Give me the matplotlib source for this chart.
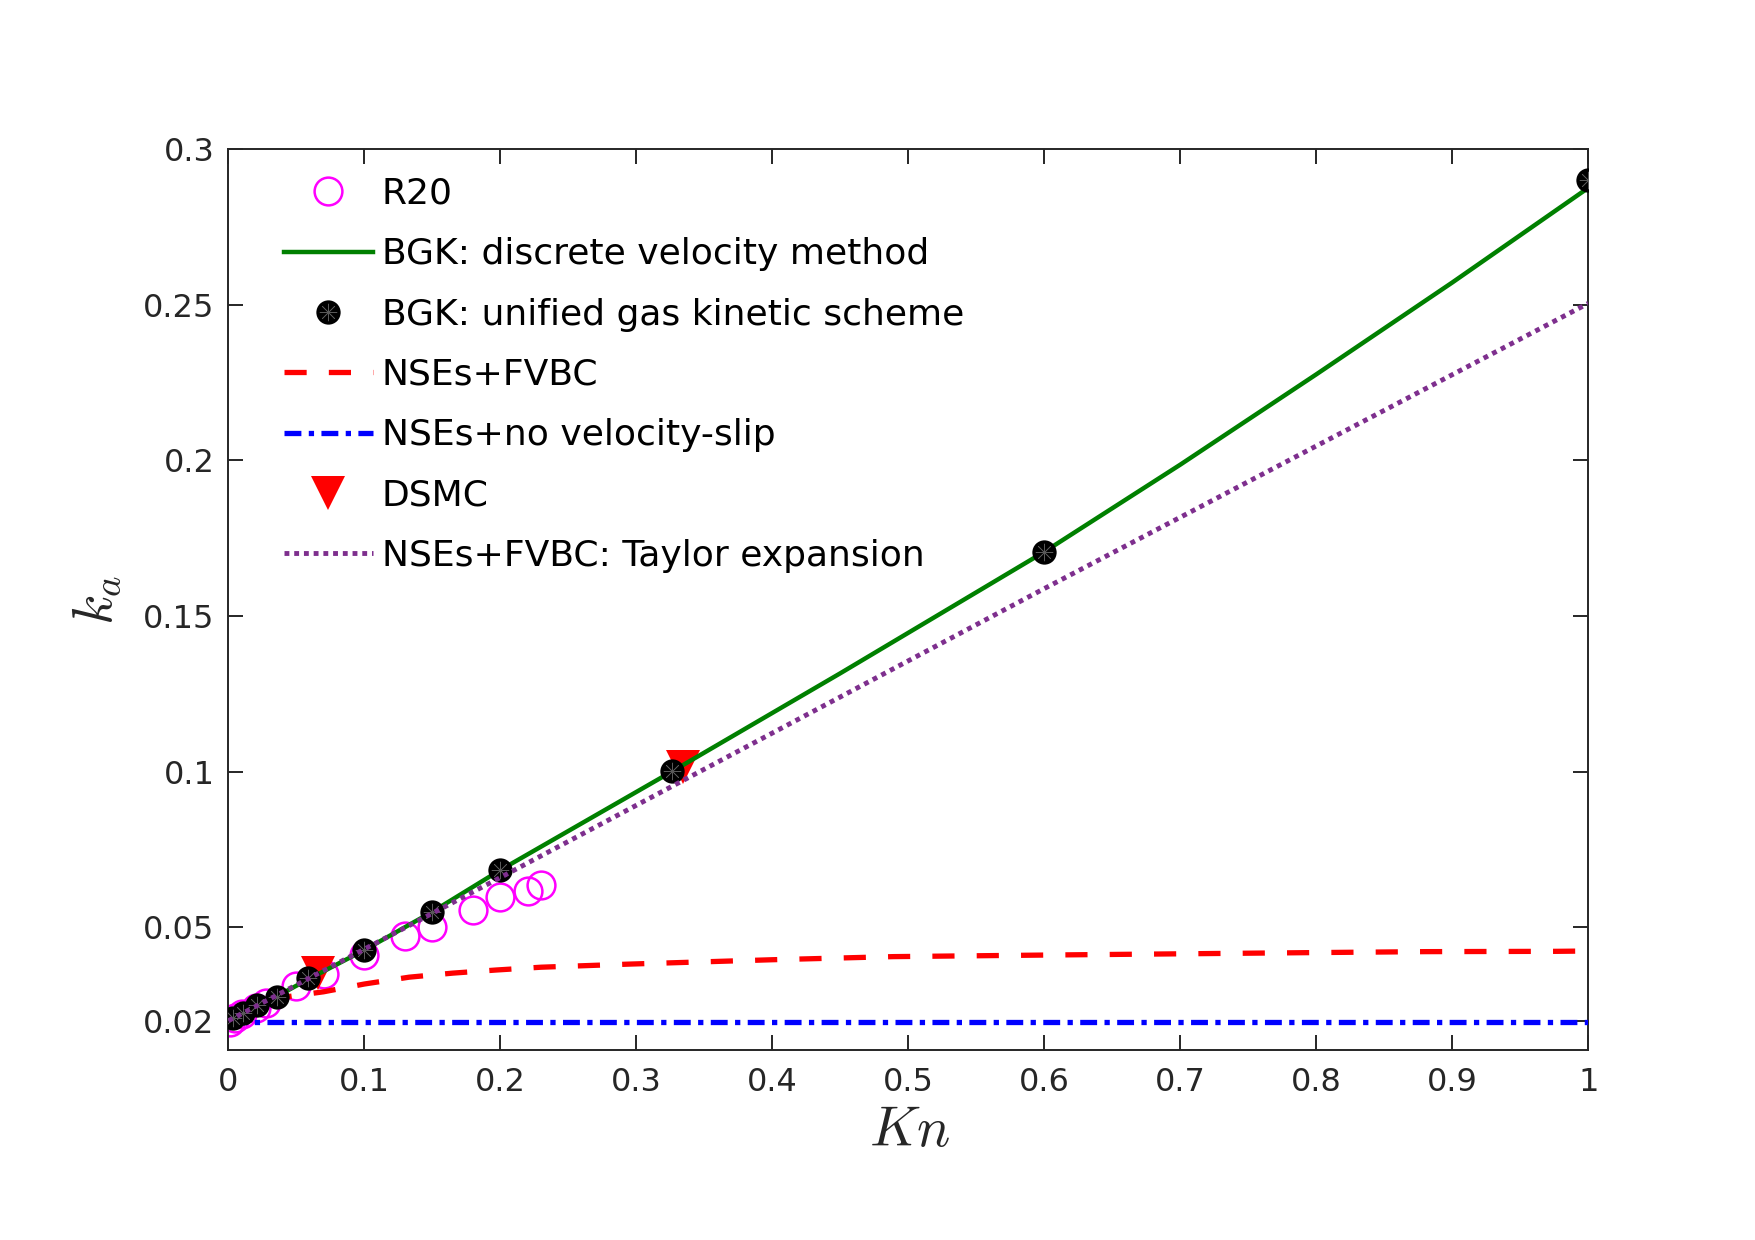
import matplotlib
matplotlib.use("Agg")
import matplotlib.pyplot as plt
from matplotlib.legend_handler import HandlerTuple

plt.rcParams['font.family'] = ['DejaVu Sans']
plt.rcParams['mathtext.fontset'] = 'cm'

# ---------------- data ----------------
r20_kn = [0.001, 0.005, 0.01, 0.02, 0.028, 0.05, 0.07, 0.1, 0.13, 0.15, 0.18, 0.2, 0.22, 0.23]
r20_ka = [0.0195, 0.021, 0.0222, 0.0240, 0.0256, 0.0312, 0.0350, 0.0410, 0.0471, 0.0502, 0.0557, 0.0597, 0.0618, 0.0637]

dvm_kn = [0.0, 0.01, 0.02, 0.035, 0.06, 0.1, 0.15, 0.2, 0.326, 0.45, 0.6, 0.7, 0.8, 0.9, 1.0]
dvm_ka = [0.0200, 0.0224, 0.0251, 0.0277, 0.0336, 0.0427, 0.0550, 0.0684, 0.1000, 0.1316, 0.1706, 0.1986, 0.2276, 0.2571, 0.2875]

ugks_kn = [0.0037, 0.011, 0.021, 0.0356, 0.0588, 0.1, 0.15, 0.2, 0.326, 0.6, 1.0]
ugks_ka = [0.0208, 0.0224, 0.0251, 0.0277, 0.0336, 0.0427, 0.0550, 0.0684, 0.1002, 0.1706, 0.2900]

fvbc_kn = [0.001, 0.02, 0.043, 0.07, 0.1, 0.133, 0.165, 0.197, 0.23, 0.256, 0.295, 0.4, 0.489, 0.6, 0.7, 0.8, 0.88, 0.977, 1.0]
fvbc_ka = [0.0203, 0.0240, 0.0277, 0.0293, 0.0318, 0.0340, 0.0353, 0.0363, 0.0372, 0.0376, 0.0382, 0.0396, 0.0406, 0.0411, 0.0415, 0.0419, 0.0422, 0.0423, 0.0424]

noslip_kn = [0.001, 1.0]
noslip_ka = [0.0197, 0.0197]

dsmc_kn = [0.066, 0.334]
dsmc_ka = [0.0355, 0.1016]

taylor_kn = [0.0, 0.2, 0.6, 1.0]
taylor_ka = [0.0200, 0.0660, 0.1588, 0.2504]

xticks = [0, 0.1, 0.2, 0.3, 0.4, 0.5, 0.6, 0.7, 0.8, 0.9, 1.0]
xticklabels = ['0', '0.1', '0.2', '0.3', '0.4', '0.5', '0.6', '0.7', '0.8', '0.9', '1']
yticks = [0.02, 0.05, 0.1, 0.15, 0.2, 0.25, 0.3]
yticklabels = ['0.02', '0.05', '0.1', '0.15', '0.2', '0.25', '0.3']

labels = ['R20', 'BGK: discrete velocity method', 'BGK: unified gas kinetic scheme',
          'NSEs+FVBC', 'NSEs+no velocity-slip', 'DSMC', 'NSEs+FVBC: Taylor expansion']

# ---------------- plot ----------------
fig = plt.figure(figsize=(17.55, 12.40), dpi=100)
ax = fig.add_axes([0.1301, 0.1532, 0.7749, 0.7267])

axc = (0.15, 0.15, 0.15)

h_r20, = ax.plot(r20_kn, r20_ka, linestyle='none', marker='o', markersize=20,
                 markerfacecolor='none', markeredgecolor='#FF00FF', markeredgewidth=1.8, zorder=2)
h_dsmc, = ax.plot(dsmc_kn, dsmc_ka, linestyle='none', marker='v', markersize=24,
                  color='#FF0000', markeredgewidth=0, zorder=2.5)
h_dvm, = ax.plot(dvm_kn, dvm_ka, color=(0, 0.5, 0), lw=3.2, zorder=3)
h_fvbc, = ax.plot(fvbc_kn, fvbc_ka, color='#FF0000', lw=3.8, linestyle=(0, (4.2, 4.2)), zorder=3)
h_ns, = ax.plot(noslip_kn, noslip_ka, color='#0000FF', lw=3.8, linestyle=(0, (3.2, 1.4, 1.0, 1.4)), zorder=3)
h_ugks, = ax.plot(ugks_kn, ugks_ka, linestyle='none', marker='o', markersize=17.5,
                  color='black', markeredgewidth=0, zorder=4)
h_star, = ax.plot(ugks_kn, ugks_ka, linestyle='none', marker=(8, 2, 0), markersize=12.5,
                  color='0.35', markeredgewidth=0.5, zorder=4.1)
h_tay, = ax.plot(taylor_kn, taylor_ka, color='#7E2F8E', lw=3.5, linestyle=(0, (1, 1)), zorder=5)

ax.set_xlim(0, 1)
ax.set_ylim(0.0106, 0.3)
ax.set_xticks(xticks)
ax.set_xticklabels(xticklabels)
ax.set_yticks(yticks)
ax.set_yticklabels(yticklabels)

ax.tick_params(direction='in', length=11, width=1.4, colors=axc, labelsize=23,
               top=True, right=True, labelcolor=axc)
ax.tick_params(axis='x', pad=12)
ax.tick_params(axis='y', pad=10)
for s in ax.spines.values():
    s.set_linewidth(1.4)
    s.set_color(axc)

ax.set_xlabel('$Kn$', fontsize=40, color=axc)
ax.xaxis.set_label_coords(0.501, -0.09)
ax.xaxis.label.set_va('center')
ax.set_ylabel('$k_a$', fontsize=40, color=axc)
ax.yaxis.set_label_coords(-0.097, 0.5)
ax.yaxis.label.set_va('center')

leg = ax.legend([h_r20, h_dvm, (h_ugks, h_star), h_fvbc, h_ns, h_dsmc, h_tay], labels,
                loc='upper left', bbox_to_anchor=(0.041, 0.969), frameon=False,
                fontsize=26, handlelength=2.45, handletextpad=0.25, labelspacing=0.73,
                borderpad=0, borderaxespad=0,
                handler_map={tuple: HandlerTuple(ndivide=1, pad=0)})
for t in leg.get_texts():
    t.set_color('black')

fig.savefig('out.png', dpi=100, facecolor='white')
